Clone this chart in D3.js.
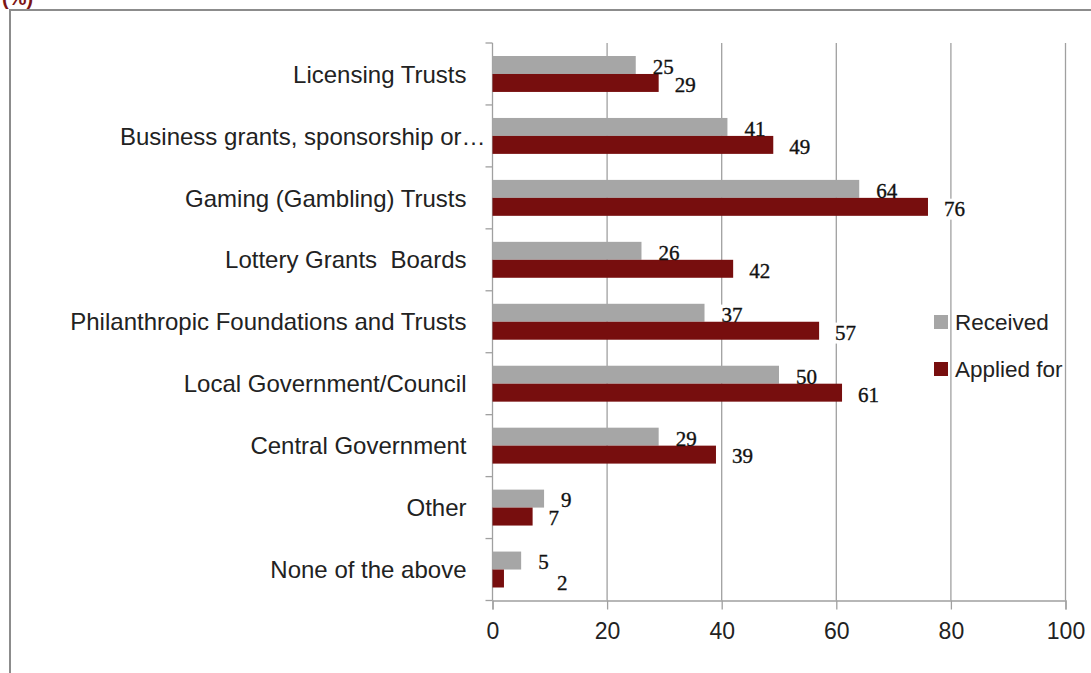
<!DOCTYPE html>
<html>
<head>
<meta charset="utf-8">
<script src="https://cdn.jsdelivr.net/npm/d3@7"></script>
<style>
  html, body { margin: 0; padding: 0; background: #fff; }
  svg { display: block; }
</style>
</head>
<body>
<svg id="chart" width="1091" height="673"></svg>
<script>
const categories = [
  "Licensing Trusts",
  "Business grants, sponsorship or…",
  "Gaming (Gambling) Trusts",
  "Lottery Grants  Boards",
  "Philanthropic Foundations and Trusts",
  "Local Government/Council",
  "Central Government",
  "Other",
  "None of the above"
];
const received = [25, 41, 64, 26, 37, 50, 29, 9, 5];
const applied  = [29, 49, 76, 42, 57, 61, 39, 7, 2];
const seriesNames = ["Received", "Applied for"];
const xTicks = [0, 20, 40, 60, 80, 100];

const colors = { "Received": "#A6A6A6", "Applied for": "#770E0E" };
const gridColor = "#A0A0A0";
const sansFont = "'Liberation Sans', Arial, sans-serif";
const serifFont = "'Liberation Serif', 'Times New Roman', serif";

const svg = d3.select("#chart");

// outer frame (partially visible) and unit label
svg.append("text").attr("x", 2).attr("y", 5)
  .attr("font-family", sansFont).attr("font-weight", "bold")
  .attr("font-size", 20).attr("fill", "#7B1515").text("(%)");
svg.append("path").attr("d", "M10,700 L10,10 L1100,10")
  .attr("fill", "none").attr("stroke", "#8C8C8C").attr("stroke-width", 2);

const x = d3.scaleLinear().domain([0, 100]).range([492.5, 1065.5]);
const y = d3.scaleBand().domain(categories).range([43, 600.5])
  .paddingInner(0.42).paddingOuter(0.21);
const sub = d3.scaleBand().domain(seriesNames).range([0, y.bandwidth()]);

// gridlines
const gGrid = svg.append("g");
gGrid.selectAll("line").data(xTicks.filter(d => d > 0)).join("line")
  .attr("x1", d => x(d)).attr("x2", d => x(d))
  .attr("y1", 43).attr("y2", 600.5)
  .attr("stroke", gridColor).attr("stroke-width", 1.3);

// x axis
const xAxis = d3.axisBottom(x).tickValues(xTicks).tickSize(9).tickPadding(13).tickFormat(d3.format("d"));
const gx = svg.append("g").attr("transform", "translate(0,600.5)").call(xAxis);
gx.select(".domain").attr("stroke", gridColor).attr("stroke-width", 1.3);
gx.selectAll(".tick line").attr("stroke", gridColor).attr("stroke-width", 1.3);
gx.selectAll(".tick text").attr("font-family", sansFont).attr("font-size", 23).attr("fill", "#222");

// y axis line and boundary ticks
const boundaries = categories.map(c => y(c) - y.step() * y.paddingInner() / 2);
boundaries.push(600.5);
const gy = svg.append("g");
gy.append("line").attr("x1", x(0)).attr("x2", x(0)).attr("y1", 43).attr("y2", 600.5)
  .attr("stroke", gridColor).attr("stroke-width", 1.3);
gy.selectAll("line.tk").data(boundaries).join("line").attr("class", "tk")
  .attr("x1", x(0) - 7).attr("x2", x(0)).attr("y1", d => d).attr("y2", d => d)
  .attr("stroke", gridColor).attr("stroke-width", 1.3);

// category labels
gy.selectAll("text").data(categories).join("text")
  .attr("x", d => d.includes("…") ? x(0) - 7 : x(0) - 26)
  .attr("y", d => y(d) + y.bandwidth() / 2)
  .attr("dy", "0.36em")
  .attr("text-anchor", "end")
  .attr("font-family", sansFont).attr("font-size", 24).attr("fill", "#222")
  .style("white-space", "pre")
  .text(d => d);

// rows of bar data
const rows = [];
categories.forEach((c, i) => {
  rows.push({ cat: c, series: "Received", value: received[i] });
  rows.push({ cat: c, series: "Applied for", value: applied[i] });
});

const gLabelBg = svg.append("g");
const gBars = svg.append("g");
const gLabels = svg.append("g");

gBars.selectAll("rect").data(rows).join("rect")
  .attr("x", x(0))
  .attr("y", d => y(d.cat) + sub(d.series))
  .attr("width", d => x(d.value) - x(0))
  .attr("height", sub.bandwidth())
  .attr("fill", d => colors[d.series]);

const labels = gLabels.selectAll("text").data(rows).join("text")
  .attr("x", d => x(d.value) + (d.series === "Received" ? 17 : 16) + (d.value < 3 ? 37 : 0))
  .attr("y", d => y(d.cat) + sub(d.series) + sub.bandwidth() / 2 + (d.value < 3 ? 4 : 1.5))
  .attr("dy", "0.35em")
  .attr("font-family", serifFont).attr("font-size", 21).attr("fill", "#111")
  .attr("stroke", "#111").attr("stroke-width", 0.35)
  .text(d => d.value);

labels.each(function() {
  const b = this.getBBox();
  gLabelBg.append("rect")
    .attr("x", b.x - 2).attr("y", b.y + 2).attr("width", b.width + 4).attr("height", b.height - 3)
    .attr("fill", "#fff");
});

// legend
const legend = svg.append("g");
seriesNames.forEach((s, i) => {
  const ly = 322 + i * 47;
  legend.append("rect").attr("x", 934).attr("y", ly - 7).attr("width", 14).attr("height", 14)
    .attr("fill", colors[s]);
  legend.append("text").attr("x", 955).attr("y", ly).attr("dy", "0.36em")
    .attr("font-family", sansFont).attr("font-size", 22.5).attr("fill", "#222").text(s);
});
</script>
</body>
</html>
